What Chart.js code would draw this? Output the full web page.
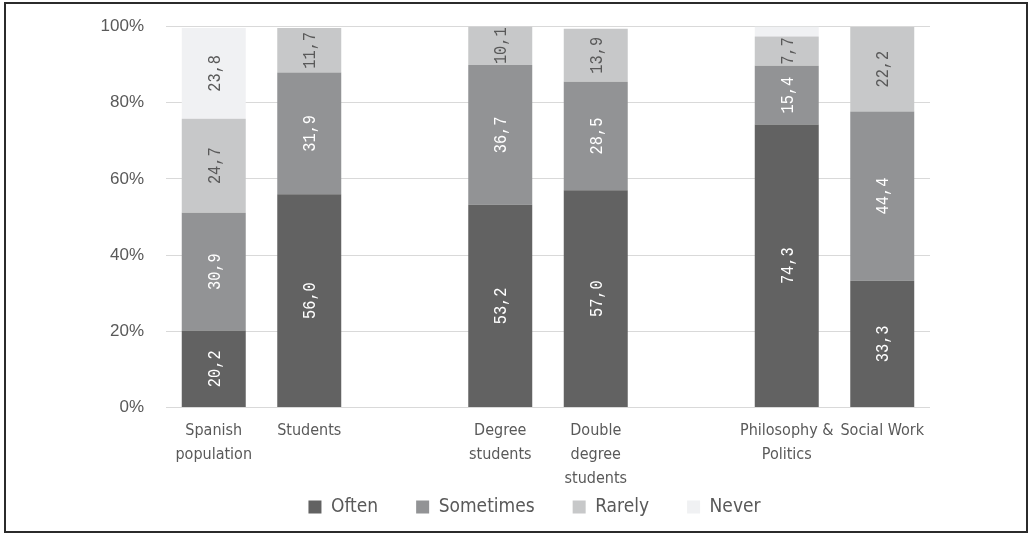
<!DOCTYPE html>
<html>
<head>
<meta charset="utf-8">
<script src="https://cdn.jsdelivr.net/npm/chart.js@4.4.1/dist/chart.umd.min.js"></script>
<style>
    html, body { margin: 0; padding: 0; background: #fff; }
    #wrap { position: relative; width: 1029px; height: 534px; }
    #frame {
        position: absolute; left: 4px; top: 2px; width: 1024px; height: 531px;
        border: 2px solid #2b2b2b; box-sizing: border-box; pointer-events: none;
    }
</style>
</head>
<body>
<div id="wrap">
    <canvas id="chart" width="1029" height="534"></canvas>
    <div id="frame"></div>
</div>
<script>
const categories = [
    ['Spanish', 'population'],
    ['Students'],
    '',
    ['Degree', 'students'],
    ['Double', 'degree', 'students'],
    '',
    ['Philosophy &', 'Politics'],
    ['Social Work']
];

const often     = [20.2, 56.0, null, 53.2, 57.0, null, 74.3, 33.3];
const sometimes = [30.9, 31.9, null, 36.7, 28.5, null, 15.4, 44.4];
const rarely    = [24.7, 11.7, null, 10.1, 13.9, null, 7.7, 22.2];
const never     = [23.8, null, null, null, null, null, 2.6, null];

const seriesNames = ['Often', 'Sometimes', 'Rarely', 'Never'];
const yTicks = [0, 20, 40, 60, 80, 100];

const barColors = ['#626262', '#929395', '#c7c8c9', '#f0f1f3'];
const labelColors = ['#ffffff', '#ffffff', '#595959', '#595959'];
const textGray = '#595959';
const narrow = "'Liberation Sans Narrow', 'DejaVu Sans Condensed', sans-serif";

// values written vertically in the middle of each segment
const barLabels = {
    id: 'barLabels',
    afterDatasetsDraw(chart) {
        const ctx = chart.ctx;
        chart.data.datasets.forEach((ds, i) => {
            const meta = chart.getDatasetMeta(i);
            meta.data.forEach((bar, j) => {
                const v = ds.data[j];
                if (v == null || v < 5) return;
                const { x, y, base } = bar.getProps(['x', 'y', 'base'], true);
                ctx.save();
                ctx.translate(x, (y + base) / 2);
                ctx.rotate(-Math.PI / 2);
                ctx.scale(0.85, 1);
                ctx.font = '18px "Liberation Mono", "DejaVu Sans Mono", monospace';
                ctx.fillStyle = labelColors[i];
                ctx.textAlign = 'center';
                ctx.textBaseline = 'middle';
                ctx.fillText(v.toFixed(1).replace('.', ','), 0, 1);
                ctx.restore();
            });
        });
    }
};

// axes are squeezed in the layout; widen their label clip boxes afterwards
const roomForLabels = {
    id: 'roomForLabels',
    afterLayout(chart) {
        chart.scales.y.left = 60;
        chart.scales.x.bottom = chart.height;
    }
};

const values = [often, sometimes, rarely, never];

new Chart(document.getElementById('chart'), {
    type: 'bar',
    data: {
        labels: categories,
        datasets: values.map((data, i) => ({
            label: seriesNames[i],
            data: data,
            backgroundColor: barColors[i],
            borderWidth: 0,
            barPercentage: 0.67,
            categoryPercentage: 1
        }))
    },
    options: {
        responsive: false,
        animation: false,
        layout: { padding: { left: 139, right: 99, top: 26.5, bottom: 7.5 } },
        plugins: {
            tooltip: { enabled: false },
            legend: {
                position: 'bottom',
                labels: {
                    boxWidth: 13,
                    boxHeight: 13,
                    padding: 38,
                    color: textGray,
                    font: { family: narrow, size: 19 }
                }
            }
        },
        scales: {
            x: {
                stacked: true,
                grid: { display: false, drawTicks: false },
                border: { display: false },
                afterFit: s => { s.height = 52; },
                ticks: {
                    autoSkip: false,
                    maxRotation: 0,
                    padding: 11,
                    color: textGray,
                    font: { family: narrow, size: 16, lineHeight: '24px' }
                }
            },
            y: {
                stacked: true,
                min: 0,
                max: 100,
                afterFit: s => {
                    s.width = 27;
                    s.paddingTop = 0;
                    s.paddingBottom = 0;
                },
                afterBuildTicks: s => { s.ticks = yTicks.map(v => ({ value: v })); },
                grid: { color: '#d9d9d9', lineWidth: 1, drawTicks: false },
                border: { display: false },
                ticks: {
                    padding: 22,
                    color: textGray,
                    font: { family: "'Liberation Sans', Arial, sans-serif", size: 17 },
                    callback: v => v + '%'
                }
            }
        }
    },
    plugins: [barLabels, roomForLabels]
});
</script>
</body>
</html>
